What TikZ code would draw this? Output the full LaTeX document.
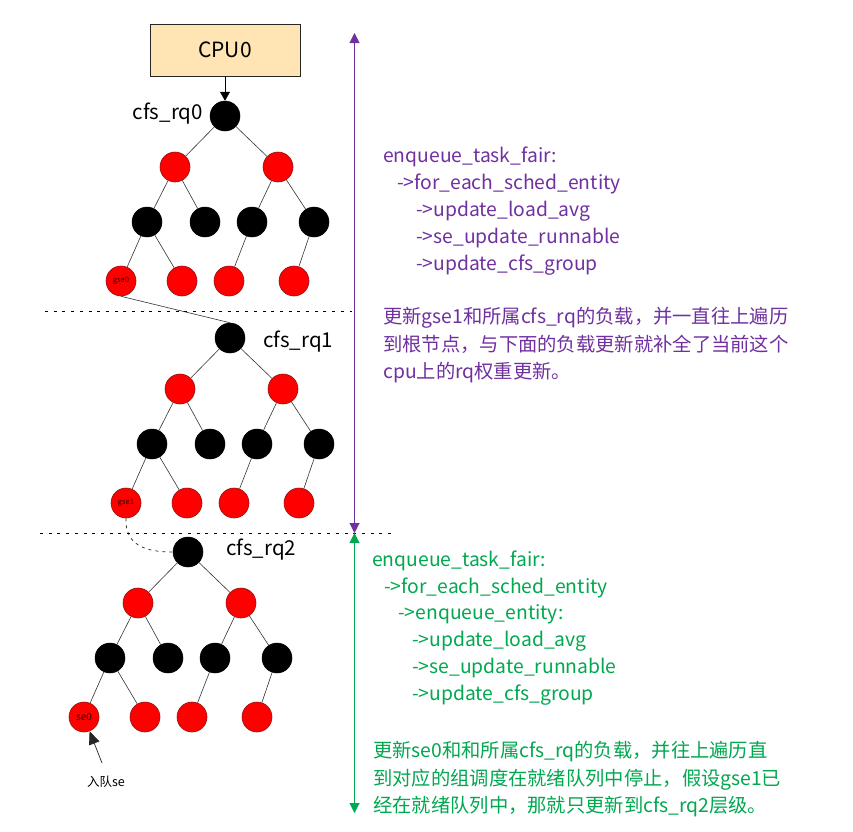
\documentclass[tikz,border=0pt]{standalone}
\usepackage{fontspec}
\setmainfont{Noto Sans CJK SC}
\usetikzlibrary{arrows.meta}
\definecolor{cpuorange}{RGB}{255,229,180}
\definecolor{purp}{RGB}{112,48,160}
\definecolor{grn}{RGB}{0,168,80}
\definecolor{redfill}{RGB}{255,0,0}
\definecolor{redline}{RGB}{150,20,20}
\newcommand{\rbtree}[4]{%
  \node[bnode] (#1r) at (#2,#3) {};
  \node[rnode] (#1a) at (#2-50,#3+51) {};
  \node[rnode] (#1b) at (#2+53,#3+51) {};
  \node[bnode] (#1c) at (#2-78,#3+106) {};
  \node[bnode] (#1d) at (#2-20,#3+106) {};
  \node[bnode] (#1e) at (#2+27,#3+106) {};
  \node[bnode] (#1f) at (#2+89,#3+106) {};
  \node[rnode] (#1g) at (#2-104,#3+165) {#4};
  \node[rnode] (#1h) at (#2-43,#3+165) {};
  \node[rnode] (#1i) at (#2+4,#3+165) {};
  \node[rnode] (#1j) at (#2+69,#3+165) {};
  \draw[treeedge] (#1r) -- (#1a);
  \draw[treeedge] (#1r) -- (#1b);
  \draw[treeedge] (#1a) -- (#1c);
  \draw[treeedge] (#1a) -- (#1d);
  \draw[treeedge] (#1b) -- (#1e);
  \draw[treeedge] (#1b) -- (#1f);
  \draw[treeedge] (#1c) -- (#1g);
  \draw[treeedge] (#1c) -- (#1h);
  \draw[treeedge] (#1e) -- (#1i);
  \draw[treeedge] (#1f) -- (#1j);
}
\begin{document}
\begin{tikzpicture}[x=1pt,y=-1pt,
  bnode/.style={circle,fill=black,draw=black,line width=0.5pt,minimum size=30pt,inner sep=0pt},
  rnode/.style={circle,fill=redfill,draw=redline,line width=0.6pt,minimum size=30pt,inner sep=0pt,text=black!85!red},
  treeedge/.style={draw=black!80,line width=0.6pt},
  sep/.style={draw=black,line width=0.6pt,dash pattern=on 3pt off 5.7pt},
  lbl/.style={inner sep=0pt,font=\fontsize{20.5}{24}\selectfont},
  ptxt/.style={inner sep=0pt,anchor=base west,text=purp,font=\fontsize{19.3}{23}\selectfont},
  gtxt/.style={inner sep=0pt,anchor=base west,text=grn,font=\fontsize{19.3}{23}\selectfont},
  vtip/.tip={Triangle[length=10pt,width=10pt]}
]
\useasboundingbox (0,0) rectangle (853,831);
\fill[white] (0,0) rectangle (853,831);

% CPU box
\node[draw=black!85,fill=cpuorange,line width=0.6pt,minimum width=150pt,minimum height=52pt,inner sep=0pt,font=\fontsize{21}{25}\selectfont] (cpu) at (225,50) {CPU0};

% trees
\rbtree{t0}{225}{116}{\fontsize{7.5}{8}\selectfont gse0}
\rbtree{t1}{230}{338}{\fontsize{7.5}{8}\selectfont gse1}
\rbtree{t2}{188}{552}{\fontsize{10}{12}\selectfont se0}

% labels
\node[lbl,anchor=base east] (l0) at (203,119) {cfs\_rq0};
\node[lbl,anchor=base west] (l1) at (263,347) {cfs\_rq1};
\node[lbl,anchor=base west] (l2) at (226,555) {cfs\_rq2};

% connectors
\draw[black,line width=0.6pt,-{Triangle[length=9pt,width=10pt]}] (cpu) -- (t0r);
\draw[treeedge] (t0g.south) -- (t1r.north);
\draw[black!85,line width=0.7pt,dash pattern=on 3pt off 4pt] (t1g.south) .. controls (125,545) and (145,552) .. (t2r.west);

% enqueue arrow
\coordinate (enq) at (102,763);
\draw[black!85,line width=0.7pt,-{Triangle[length=13pt,width=11pt]}] (enq) -- (t2g);
\node[inner sep=0pt,font=\fontsize{12.5}{14}\selectfont] (enqlbl) at (106,782) {入队se};

% separators
\coordinate (s1a) at (45,311);
\coordinate (s1b) at (352,311);
\coordinate (s2a) at (40,533);
\coordinate (s2b) at (392,533);
\draw[sep] (s1a) -- (s1b);
\draw[sep] (s2a) -- (s2b);

% vertical arrows
\coordinate (ptop) at (354.5,33);
\coordinate (pbot) at (354.5,533);
\coordinate (gtop) at (354.5,533);
\coordinate (gbot) at (354.5,813);
\draw[purp,line width=1pt,{vtip}-{vtip}] (ptop) -- (pbot);
\draw[grn,line width=1pt,{vtip}-{vtip}] (gtop) -- (gbot);

% purple text
\node[ptxt] (p1) at (383,162) {enqueue\_task\_fair:};
\node[ptxt] (p2) at (397,189) {->for\_each\_sched\_entity};
\node[ptxt] (p3) at (416,216) {->update\_load\_avg};
\node[ptxt] (p4) at (416,243) {->se\_update\_runnable};
\node[ptxt] (p5) at (416,270) {->update\_cfs\_group};
\node[ptxt] (p6) at (383,323) {更新gse1和所属cfs\_rq的负载，并一直往上遍历};
\node[ptxt] (p7) at (383,351) {到根节点，与下面的负载更新就补全了当前这个};
\node[ptxt] (p8) at (383,378) {cpu上的rq权重更新。};

% green text
\node[gtxt] (g1) at (372,566) {enqueue\_task\_fair:};
\node[gtxt] (g2) at (384,593) {->for\_each\_sched\_entity};
\node[gtxt] (g3) at (398,619) {->enqueue\_entity:};
\node[gtxt] (g4) at (412,646) {->update\_load\_avg};
\node[gtxt] (g5) at (412,673) {->se\_update\_runnable};
\node[gtxt] (g6) at (412,700) {->update\_cfs\_group};
\node[gtxt] (g7) at (373,757) {更新se0和和所属cfs\_rq的负载，并往上遍历直};
\node[gtxt] (g8) at (373,785) {到对应的组调度在就绪队列中停止，假设gse1已};
\node[gtxt] (g9) at (373,812) {经在就绪队列中，那就只更新到cfs\_rq2层级。};
\end{tikzpicture}
\end{document}
